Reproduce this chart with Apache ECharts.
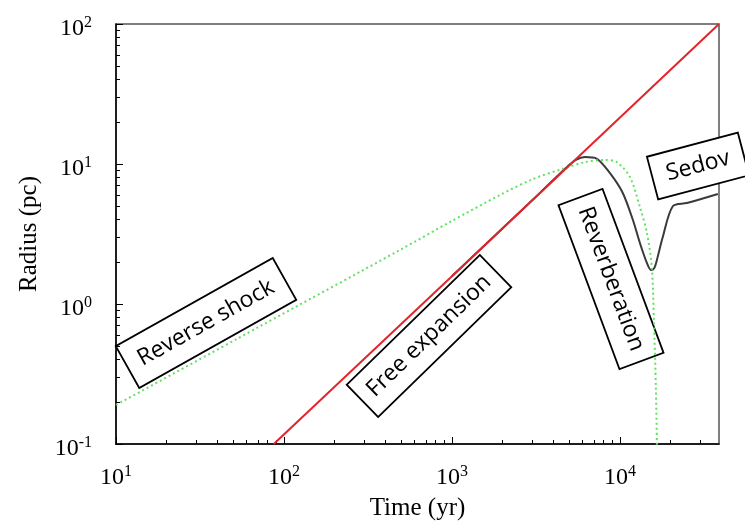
<!DOCTYPE html>
<html><head><meta charset="utf-8">
<script src="https://cdn.jsdelivr.net/npm/echarts@6.0.0/dist/echarts.min.js"></script>
<style>html,body{margin:0;padding:0;background:#fff}#c{width:745px;height:522px}</style>
</head><body><div id="c"></div>
<script>
// ---- data ----
const freeT = [87, 1000, 38900];
const freeR = [0.1, 1.58, 100];

const reverseT = [10, 70, 490, 1000, 1930, 3030, 4520, 6190, 8060, 9590, 11470, 13150, 14490, 15500, 15930, 16370, 16600, 16750];
const reverseR = [0.19, 0.68, 2.43, 3.92, 6.0, 7.8, 9.2, 10.3, 10.7, 10.3, 8.07, 4.93, 3.21, 1.81, 0.77, 0.255, 0.1, 0.03];

const blastT = [1000, 3340, 4840, 5470, 6190, 7290, 8710, 10400, 11950, 13150, 14490, 15300, 16000, 16600, 18000, 20700, 25000, 38300];
const blastR = [1.58, 6.22, 9.52, 10.7, 11.2, 10.9, 8.63, 6.21, 3.98, 2.73, 1.96, 1.75, 1.8, 2.06, 3.01, 5.01, 5.26, 6.11];

const xMajor = [10, 100, 1000, 10000];
const yMajor = [0.1, 1, 10, 100];
const phaseLabels = ['Reverse shock', 'Free expansion', 'Reverberation', 'Sedov'];
const xTitle = 'Time (yr)';
const yTitle = 'Radius (pc)';

function minorOf(decades) {
  const out = [];
  decades.forEach(d => { for (let k = 2; k <= 9; k++) out.push(+(k * d).toPrecision(6)); });
  return out;
}
const xMinor = minorOf([10, 100, 1000, 10000]);
const yMinor = minorOf([0.1, 1, 10]);

const pairs = (a, b) => a.map((v, i) => [v, b[i]]);
const SERIF = 'Liberation Serif';
const rich = {
  b: { fontFamily: SERIF, fontSize: 24, color: '#000', lineHeight: 28 },
  s: { fontFamily: SERIF, fontSize: 16, color: '#000', lineHeight: 16, verticalAlign: 'top' }
};
const supFmt = v => '{b|10}{s|' + Math.round(Math.log10(v)) + '}';

const chart = echarts.init(document.getElementById('c'), null, { renderer: 'canvas' });

function box(label, x, y, deg, w, h) {
  return {
    type: 'group', x: x, y: y, rotation: deg * Math.PI / 180, z: 100,
    children: [
      { type: 'rect', shape: { x: -w / 2, y: -h / 2, width: w, height: h },
        style: { fill: '#fff', stroke: '#000', lineWidth: 1.8 } },
      { type: 'text', style: { text: label, x: 0, y: 0, align: 'center', verticalAlign: 'middle',
        font: '23px "Open Sans"', fill: '#000' } }
    ]
  };
}

const option = {
  animation: false,
  backgroundColor: '#fff',
  grid: { left: 116, top: 24, right: 26, bottom: 78, show: true, borderColor: '#555', borderWidth: 1.5,
          containLabel: false, outerBoundsMode: 'none' },
  xAxis: [
    { type: 'log', logBase: 10, min: 10, max: 38900, position: 'bottom',
      axisLine: { show: true, onZero: false, lineStyle: { color: '#000', width: 1.5 } },
      axisTick: { show: true, inside: true, length: 7, customValues: xMajor, lineStyle: { color: '#000', width: 1 } },
      axisLabel: { customValues: xMajor, formatter: supFmt, rich: rich, margin: 20 },
      splitLine: { show: false }, minorTick: { show: false },
      name: xTitle, nameLocation: 'middle', nameGap: 52,
      nameTextStyle: { fontFamily: SERIF, fontSize: 25, color: '#000' } },
    { type: 'log', logBase: 10, min: 10, max: 38900, position: 'bottom',
      axisLine: { show: false, onZero: false },
      axisTick: { show: true, inside: true, length: 4, customValues: xMinor, lineStyle: { color: '#000', width: 1 } },
      axisLabel: { show: false }, splitLine: { show: false } }
  ],
  yAxis: [
    { type: 'log', logBase: 10, min: 0.1, max: 100, position: 'left',
      axisLine: { show: true, onZero: false, lineStyle: { color: '#000', width: 1.5 } },
      axisTick: { show: true, inside: true, length: 7, customValues: yMajor, lineStyle: { color: '#000', width: 1 } },
      axisLabel: { customValues: yMajor, formatter: supFmt, rich: rich, margin: 24, padding: [10, 0, 0, 0] },
      splitLine: { show: false },
      name: yTitle, nameLocation: 'middle', nameGap: 74,
      nameTextStyle: { fontFamily: SERIF, fontSize: 25, color: '#000' } },
    { type: 'log', logBase: 10, min: 0.1, max: 100, position: 'left',
      axisLine: { show: false, onZero: false },
      axisTick: { show: true, inside: true, length: 4, customValues: yMinor, lineStyle: { color: '#000', width: 1 } },
      axisLabel: { show: false }, splitLine: { show: false } }
  ],
  series: [
    { type: 'line', name: 'Blast', data: pairs(blastT, blastR), xAxisIndex: 0, yAxisIndex: 0,
      showSymbol: false, symbol: 'none', smooth: 0.3, z: 2, lineStyle: { color: '#3a3a3a', width: 2 } },
    { type: 'line', name: 'Reverse', data: pairs(reverseT, reverseR), xAxisIndex: 0, yAxisIndex: 0,
      showSymbol: false, symbol: 'none', smooth: 0.3, z: 3, lineStyle: { color: '#5fe35f', width: 2, type: [2, 3] } },
    { type: 'line', name: 'Free', data: pairs(freeT, freeR), xAxisIndex: 0, yAxisIndex: 0,
      showSymbol: false, symbol: 'none', z: 4, lineStyle: { color: '#e3242b', width: 2 } }
  ],
  graphic: [
    box(phaseLabels[0], 206, 323, 29.3, 180, 48),
    box(phaseLabels[1], 429, 336, 44.3, 186, 45),
    box(phaseLabels[2], 611, 279, -69.6, 175, 47),
    box(phaseLabels[3], 698, 166, 14.8, 94, 44)
  ]
};
chart.setOption(option);
</script>
</body></html>
